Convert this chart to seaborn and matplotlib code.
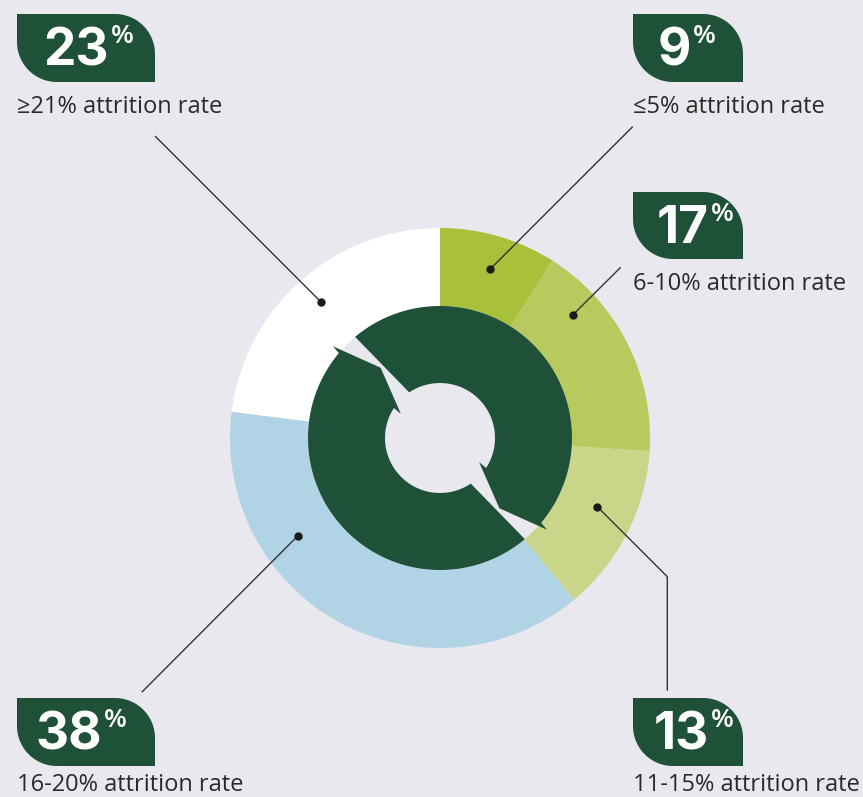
import numpy as np
import matplotlib
matplotlib.use("Agg")
import matplotlib.pyplot as plt
import seaborn as sns
from matplotlib.patches import Polygon

# ---------------- data ----------------
categories = ["≤5%", "6-10%", "11-15%", "16-20%", "≥21%"]
shares = [9, 17, 13, 38, 23]
label_suffix = "attrition rate"

# ---------------- style ----------------
BG = "#e8e8ee"
DARK = "#1f5038"
TEXT = "#2a2a2a"
ring_colors = ["#a8c03a", "#b8ca5d", "#c9d589", "#b0d3e6", "#ffffff"]

sns.set_theme(style="white", rc={"figure.facecolor": BG, "axes.facecolor": BG})
plt.rcParams["font.family"] = ["Open Sans", "DejaVu Sans"]

W, H = 863, 797
fig = plt.figure(figsize=(W / 100, H / 100), dpi=100)
ax = fig.add_axes([0, 0, 1, 1])

CX, CY = 440, 438
R_OUT, R_MID, R_IN = 210, 132, 55

# outer ring (y axis inverted -> startangle -90 & counterclock give visual top/clockwise)
ax.pie(shares, colors=sns.color_palette(ring_colors), startangle=-90, counterclock=True,
       radius=R_OUT, center=(CX, CY), frame=True,
       wedgeprops=dict(width=R_OUT - R_MID, edgecolor="none", linewidth=0))


def pt(r, a):
    a = np.radians(a)
    return np.array([[CX + r * np.cos(a), CY - r * np.sin(a)]])


def arc(r, a0, a1, n=160):
    a = np.radians(np.linspace(a0, a1, n))
    return np.column_stack([CX + r * np.cos(a), CY - r * np.sin(a)])


# inner ring: two circular arrows
for rot in (0, 180):
    pts = np.vstack([
        arc(R_MID, 130 + rot, -40 + rot),
        pt(141, -40.6 + rot),
        pt(92, -49.8 + rot),
        pt(46, -31.7 + rot),
        arc(R_IN, -33 + rot, 124 + rot),
    ])
    ax.add_patch(Polygon(pts, closed=True, facecolor=DARK, edgecolor="none", zorder=3))

# ---------------- labels ----------------
# box (x0, y0, x1, y1), junction x between number and %, text baseline
boxes = {
    "≤5%": ((633, 14, 743, 82), 691, 113),
    "6-10%": ((633, 192, 743, 259), 709, 290),
    "11-15%": ((633, 698, 743, 766), 709, 791),
    "16-20%": ((17, 698, 155, 766), 102, 791),
    "≥21%": ((17, 14, 155, 82), 109, 113),
}
leaders = {
    "≤5%": [(490, 269.3), (632.7, 126.7)],
    "6-10%": [(572.7, 315), (620.7, 267.3)],
    "11-15%": [(597.3, 506.7), (667.3, 576.7), (667.3, 690.7)],
    "16-20%": [(297.7, 536), (141.7, 692.3)],
    "≥21%": [(320.7, 301.7), (155, 136)],
}


def leaf(x0, y0, x1, y1, rad=40):
    tr = np.radians(np.linspace(90, 0, 40))
    top_right = np.column_stack([x1 - rad + rad * np.cos(tr), y0 + rad - rad * np.sin(tr)])
    bl = np.radians(np.linspace(270, 180, 40))
    bot_left = np.column_stack([x0 + rad + rad * np.cos(bl), y1 - rad - rad * np.sin(bl)])
    return np.vstack([[[x0, y0]], top_right, [[x1, y1]], bot_left])


for cat, val in zip(categories, shares):
    (x0, y0, x1, y1), jx, tb = boxes[cat]
    ax.add_patch(Polygon(leaf(x0, y0, x1, y1), closed=True, facecolor=DARK,
                         edgecolor="none", zorder=4))
    ax.text(jx, y0 + 51, f"{val}", ha="right", va="baseline", color="white",
            fontsize=37, fontweight="bold", family=["Inter", "DejaVu Sans"], zorder=5)
    ax.text(jx + 2, y0 + 10, "%", ha="left", va="top", color="white",
            fontsize=19, fontweight="semibold", zorder=5)
    ax.text(x0, tb, f"{cat} {label_suffix}", ha="left", va="baseline", color=TEXT,
            fontsize=17, zorder=5)
    line = np.array(leaders[cat])
    ax.plot(line[:, 0], line[:, 1], color="#333333", lw=1, zorder=6,
            solid_capstyle="butt")
    ax.plot(line[0, 0], line[0, 1], "o", color="#1a1a1a", ms=5, zorder=7)

ax.set_xlim(0, W)
ax.set_ylim(H, 0)
ax.set_aspect("equal")
ax.axis("off")

fig.savefig("out.png", dpi=100, facecolor=BG)
